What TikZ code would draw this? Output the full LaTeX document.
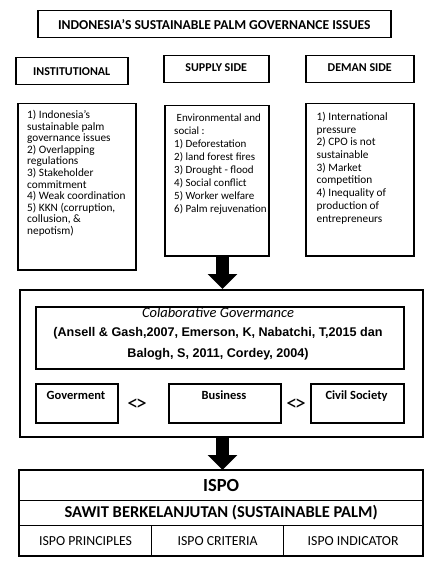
\documentclass[tikz,border=0pt]{standalone}
\usepackage{fontspec}
\setmainfont{Carlito}
\newfontfamily\arialf{Liberation Sans}
\usetikzlibrary{arrows.meta}
\begin{document}
\begin{tikzpicture}[x=1pt,y=-1pt,
  box/.style={draw, line width=1.5pt, inner sep=0pt, anchor=north west},
  cell/.style={draw, line width=1.2pt, inner sep=0pt, anchor=north west},
  bigarrow/.style={line width=13pt, -{Triangle[width=29pt,length=15pt]}},
  bodytext/.style={anchor=north west, align=left, inner sep=0pt},
  headfont/.style={font=\bfseries\fontsize{12}{14}\selectfont},
  actor/.style={anchor=base, inner sep=0pt, font=\bfseries\fontsize{12.5}{14}\selectfont},
  swap/.style={anchor=center, inner sep=0pt, font=\fontsize{22}{24}\selectfont}
]
\useasboundingbox (0,0) rectangle (433,564);

% title and headers
\node[box, minimum width=353, minimum height=27, font=\bfseries\fontsize{13.6}{15}\selectfont] (title) at (37,10) {INDONESIA'S SUSTAINABLE PALM GOVERNANCE ISSUES};
\node[box, minimum width=112, minimum height=27, headfont] (inst) at (15,57) {INSTITUTIONAL};
\node[box, minimum width=105, minimum height=27] (supply) at (163,55) {};
\node[headfont, inner sep=0pt] (supplyt) at ([yshift=2pt]supply.center) {SUPPLY SIDE};
\node[box, minimum width=108, minimum height=27] (demand) at (305,55) {};
\node[headfont, inner sep=0pt] (demandt) at ([yshift=2pt]demand.center) {DEMAN SIDE};

% content boxes
\node[box, minimum width=118, minimum height=166] (instc) at (17,103) {};
\node[bodytext, font=\fontsize{11.3}{11.6}\selectfont] (instct) at (27,110) {1) Indonesia's\\sustainable palm\\governance issues\\2) Overlapping\\regulations\\3) Stakeholder\\commitment\\4) Weak coordination\\5) KKN (corruption,\\collusion, \&\\nepotism)};
\node[box, minimum width=104, minimum height=150] (supplyc) at (164,105) {};
\node[bodytext, font=\fontsize{11}{13}\selectfont] (supplyct) at (174,113.5) {\ Environmental and\\social :\\1) Deforestation\\2) land forest fires\\3) Drought - flood\\4) Social conflict\\5) Worker welfare\\6) Palm rejuvenation};
\node[box, minimum width=108, minimum height=152] (demandc) at (305,103) {};
\node[bodytext, font=\fontsize{11.3}{12.7}\selectfont] (demandct) at (316.5,112) {1) International\\pressure\\2) CPO is not\\sustainable\\3) Market\\competition\\4) Inequality of\\production of\\entrepreneurs};

% collaborative governance
\node[box, minimum width=403, minimum height=147] (collab) at (19,289) {};
\node[box, minimum width=368, minimum height=62] (theory) at (35,306) {};
\node[inner sep=0pt, font=\itshape\fontsize{14.5}{16}\selectfont] (cg1) at (218,313) {Colaborative Govermance};
\node[inner sep=0pt, font=\arialf\bfseries\fontsize{12.6}{14}\selectfont] (cg2) at (218,333) {(Ansell \& Gash,2007, Emerson, K, Nabatchi, T,2015 dan};
\node[inner sep=0pt, font=\arialf\bfseries\fontsize{12.6}{14}\selectfont] (cg3) at (218,354) {Balogh, S, 2011, Cordey, 2004)};

\node[box, minimum width=82, minimum height=39] (gov) at (35,383) {};
\node[box, minimum width=112, minimum height=39] (bus) at (168,383) {};
\node[box, minimum width=93, minimum height=39] (civ) at (310,383) {};
\node[actor] (govt) at (76,399) {Goverment};
\node[actor] (bust) at (224,399) {Business};
\node[actor] (civt) at (356.5,399) {Civil Society};
\node[swap] (sw1) at (137,405) {<\kern-2.5pt>};
\node[swap] (sw2) at (296,405) {<\kern-2.5pt>};

% ISPO table
\node[cell, minimum width=403, minimum height=30, font=\bfseries\fontsize{18.5}{20}\selectfont] (ispo) at (19,470) {ISPO};
\node[cell, minimum width=403, minimum height=25, font=\bfseries\fontsize{16.5}{18}\selectfont] (sawit) at (19,500) {SAWIT BERKELANJUTAN (SUSTAINABLE PALM)};
\node[cell, minimum width=132, minimum height=30, font=\fontsize{13.8}{15}\selectfont] (prin) at (19,525) {ISPO PRINCIPLES};
\node[cell, minimum width=132, minimum height=30, font=\fontsize{13.8}{15}\selectfont] (crit) at (151,525) {ISPO CRITERIA};
\node[cell, minimum width=139, minimum height=30, font=\fontsize{13.8}{15}\selectfont] (indi) at (283,525) {ISPO INDICATOR};
\draw[line width=1.8pt] (ispo.north west) rectangle (indi.south east);

% arrows
\coordinate (ax) at (222.5,0);
\draw[bigarrow] (supplyc.south -| ax) -- (collab.north -| ax);
\draw[bigarrow] (collab.south -| ax) -- (ispo.north -| ax);
\end{tikzpicture}
\end{document}
